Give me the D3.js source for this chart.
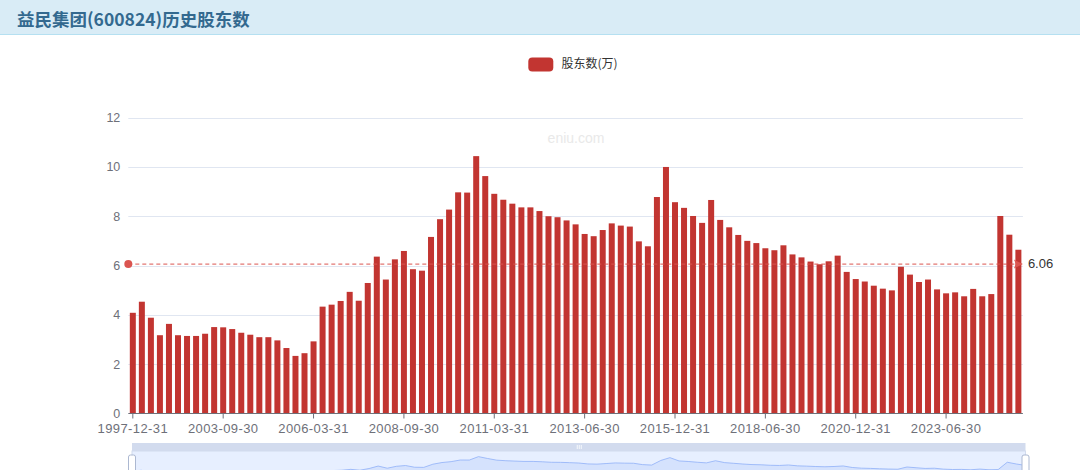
<!DOCTYPE html>
<html>
<head>
<meta charset="utf-8">
<script src="https://cdn.jsdelivr.net/npm/d3@7/dist/d3.min.js"></script>
<style>
  html, body { margin: 0; padding: 0; background: #fff; }
  body { width: 1080px; height: 470px; overflow: hidden; }
  svg { display: block; }
</style>
</head>
<body>
<svg id="chart" width="1080" height="470"></svg>
<script>
// ---- data ----
const titleText = "益民集团(600824)历史股东数";
const seriesName = "股东数(万)";
const watermark = "eniu.com";

const dates = [
  "1997-12-31","1998-06-30","1998-12-31","1999-06-30","1999-12-31","2000-06-30","2000-12-31","2001-06-30","2001-12-31","2002-12-31",
  "2003-09-30","2003-12-31","2004-03-31","2004-06-30","2004-09-30","2004-12-31","2005-03-31","2005-06-30","2005-09-30","2005-12-31",
  "2006-03-31","2006-06-30","2006-09-30","2006-12-31","2007-03-31","2007-06-30","2007-09-30","2007-12-31","2008-03-31","2008-06-30",
  "2008-09-30","2008-12-31","2009-03-31","2009-06-30","2009-09-30","2009-12-31","2010-03-31","2010-06-30","2010-09-30","2010-12-31",
  "2011-03-31","2011-06-30","2011-09-30","2011-12-31","2012-02-29","2012-03-31","2012-06-30","2012-09-30","2012-12-31","2013-03-31",
  "2013-06-30","2013-09-30","2013-12-31","2014-03-31","2014-06-30","2014-09-30","2014-12-31","2015-03-31","2015-06-30","2015-09-30",
  "2015-12-31","2016-03-31","2016-06-30","2016-09-30","2016-12-31","2017-03-31","2017-06-30","2017-09-30","2017-12-31","2018-03-31",
  "2018-06-30","2018-09-30","2018-12-31","2019-03-31","2019-06-30","2019-09-30","2019-12-31","2020-03-31","2020-06-30","2020-09-30",
  "2020-12-31","2021-03-31","2021-06-30","2021-09-30","2021-12-31","2022-03-31","2022-06-30","2022-09-30","2022-12-31","2023-03-31",
  "2023-06-30","2023-09-30","2023-12-31","2024-03-31","2024-06-30","2024-09-30","2024-12-31","2025-03-31","2025-06-30"
];

const holders = [
  4.08,4.53,3.88,3.17,3.63,3.17,3.14,3.14,3.23,3.50,
  3.49,3.42,3.27,3.19,3.09,3.09,2.96,2.65,2.33,2.44,
  2.92,4.33,4.41,4.56,4.93,4.57,5.29,6.36,5.43,6.25,
  6.59,5.85,5.79,7.16,7.88,8.27,8.97,8.96,10.44,9.63,
  8.91,8.67,8.51,8.36,8.36,8.21,8.00,7.96,7.83,7.67,
  7.28,7.19,7.44,7.71,7.62,7.58,6.98,6.78,8.78,10.00,
  8.57,8.34,8.01,7.73,8.66,7.85,7.55,7.24,7.00,6.91,
  6.70,6.62,6.82,6.45,6.33,6.16,6.05,6.17,6.40,5.74,
  5.45,5.35,5.18,5.06,4.99,5.95,5.63,5.33,5.43,5.03,
  4.87,4.91,4.75,5.05,4.75,4.84,8.01,7.25,6.64
];

const yTicks = [0, 2, 4, 6, 8, 10, 12];
const labelEvery = 10;

// ---- layout ----
const W = 1080, H = 470;
const grid = { left: 128.3, right: 1022.9, top: 117.7, bottom: 413.3 };
const barColor = "#c23531";
const axisColor = "#6E7079";
const gridColor = "#E0E6F1";
const cjk = "'Noto Sans CJK SC', 'Noto Sans', sans-serif";
const latin = "'Liberation Sans', Arial, 'Noto Sans CJK SC', sans-serif";

const svg = d3.select("#chart");

// Title bar
svg.append("rect").attr("x", 0).attr("y", 0).attr("width", W).attr("height", 34)
  .attr("fill", "#d9ecf6");
svg.append("line").attr("x1", 0).attr("x2", W).attr("y1", 34.5).attr("y2", 34.5)
  .attr("stroke", "#b5e0f1").attr("stroke-width", 1);
svg.append("text").attr("x", 17).attr("y", 21)
  .attr("font-family", cjk).attr("font-size", 17.5).attr("font-weight", "bold")
  .attr("fill", "#33698f").attr("dominant-baseline", "middle")
  .text(titleText);

// Scales
const x = d3.scaleBand().domain(dates).range([grid.left, grid.right]).paddingInner(0).paddingOuter(0);
const y = d3.scaleLinear().domain([0, 12]).range([grid.bottom, grid.top]);

// Watermark
svg.append("text").attr("x", 576).attr("y", 139)
  .attr("text-anchor", "middle").attr("dominant-baseline", "middle")
  .attr("font-family", latin).attr("font-size", 14).attr("fill", "#e9e9e9")
  .text(watermark);

// Gridlines
const gy = svg.append("g");
gy.selectAll("line").data(yTicks.filter(d => d !== 0)).join("line")
  .attr("x1", grid.left).attr("x2", grid.right)
  .attr("y1", d => Math.round(y(d)) + 0.5).attr("y2", d => Math.round(y(d)) + 0.5)
  .attr("stroke", gridColor).attr("stroke-width", 1);

// Y axis labels (no line, no ticks)
const yAxis = d3.axisLeft(y).tickValues(yTicks).tickSize(0).tickPadding(8);
const yg = svg.append("g").attr("transform", `translate(${grid.left},0)`).call(yAxis);
yg.select(".domain").remove();
yg.selectAll("text").attr("fill", axisColor).attr("font-size", 12.5).attr("font-family", latin);

// Bars
const barW = 6;
svg.append("g").selectAll("rect").data(holders).join("rect")
  .attr("x", (d, i) => x(dates[i]) + (x.bandwidth() - barW) / 2)
  .attr("width", barW)
  .attr("y", d => y(d))
  .attr("height", d => y(0) - y(d))
  .attr("fill", barColor);

// X axis
const labelDates = dates.filter((d, i) => i % labelEvery === 0);
const xAxis = d3.axisBottom(x).tickValues(labelDates).tickSize(5).tickPadding(5);
const xg = svg.append("g").attr("transform", `translate(0,${Math.round(grid.bottom) + 0.5})`).call(xAxis);
xg.select(".domain").attr("stroke", axisColor).attr("d", `M${grid.left},0H${grid.right}`);
xg.selectAll(".tick line").attr("stroke", axisColor);
xg.selectAll("text").attr("fill", axisColor).attr("font-size", 13).attr("font-family", latin)
  .attr("letter-spacing", 0.4);

// Average mark line
const avg = d3.mean(holders);
const ay = y(avg);
const mlColor = "#db5550";
svg.append("line")
  .attr("x1", grid.left).attr("x2", grid.right - 6)
  .attr("y1", ay).attr("y2", ay)
  .attr("stroke", mlColor).attr("stroke-width", 1)
  .attr("stroke-dasharray", "4,3");
svg.append("circle").attr("cx", grid.left).attr("cy", ay).attr("r", 4).attr("fill", mlColor);
svg.append("path")
  .attr("d", `M${grid.right},${ay} L${grid.right - 9},${ay - 4.5} L${grid.right - 7},${ay} L${grid.right - 9},${ay + 4.5} Z`)
  .attr("fill", mlColor);
svg.append("text").attr("x", grid.right + 5).attr("y", ay)
  .attr("dominant-baseline", "middle")
  .attr("font-family", latin).attr("font-size", 13).attr("fill", "#333")
  .text(avg.toFixed(2));

// Legend
const lg = svg.append("g");
lg.append("rect").attr("x", 528.3).attr("y", 57.5).attr("width", 25).attr("height", 14)
  .attr("rx", 4).attr("fill", barColor);
lg.append("text").attr("x", 561.5).attr("y", 65)
  .attr("dominant-baseline", "middle")
  .attr("font-family", cjk).attr("font-size", 12).attr("fill", "#333")
  .text(seriesName);

// Data zoom slider
const sz = { left: 132, right: 1025.5, top: 451, height: 30 };
const dz = svg.append("g");
dz.append("rect").attr("x", sz.left).attr("y", 443).attr("width", sz.right - sz.left).attr("height", 8)
  .attr("fill", "#d2dbee");
dz.append("rect").attr("x", sz.left).attr("y", sz.top).attr("width", sz.right - sz.left).attr("height", sz.height)
  .attr("fill", "rgba(135,175,274,0.2)").attr("stroke", "#d2dbee");
const ext = d3.extent(holders);
const off = (ext[1] - ext[0]) * 0.3;
const sx = d3.scaleLinear().domain([0, holders.length - 1]).range([sz.left, sz.right]);
const sy = d3.scaleLinear().domain([ext[0] - off, ext[1] + off]).range([sz.top + sz.height, sz.top]);
const area = d3.area().x((d, i) => sx(i)).y0(sz.top + sz.height).y1(d => sy(d));
const line = d3.line().x((d, i) => sx(i)).y(d => sy(d));
dz.append("path").datum(holders).attr("d", area).attr("fill", "#8fb0f7").attr("fill-opacity", 0.2);
dz.append("path").datum(holders).attr("d", line).attr("fill", "none").attr("stroke", "#8fb0f7").attr("stroke-width", 0.8);
// move handle grip
[-2, 0, 2].forEach(o => {
  dz.append("line").attr("x1", (sz.left + sz.right) / 2 + o + 0.5).attr("x2", (sz.left + sz.right) / 2 + o + 0.5)
    .attr("y1", 445).attr("y2", 449).attr("stroke", "#fff").attr("stroke-width", 0.8);
});
// handles
[sz.left, sz.right].forEach(hx => {
  dz.append("rect").attr("x", hx - 3.5).attr("y", 455).attr("width", 7).attr("height", 22)
    .attr("rx", 2).attr("fill", "#fff").attr("stroke", "#ACB8D1").attr("stroke-width", 1);
});
</script>
</body>
</html>
